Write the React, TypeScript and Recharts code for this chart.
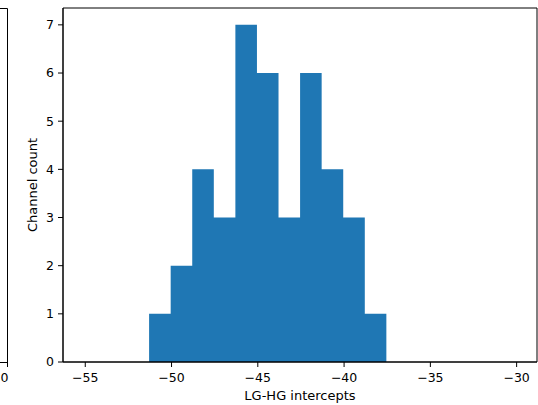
import { FC } from "react";
import {
  ComposedChart,
  Area,
  XAxis,
  YAxis,
  ReferenceArea,
} from "recharts";

// histogram bin edges (12) and channel counts per bin (11)
const binEdges = [
  -51.3, -50.05, -48.8, -47.55, -46.3, -45.05, -43.8, -42.55, -41.3, -40.05,
  -38.8, -37.55,
];
const counts = [1, 2, 4, 3, 7, 6, 3, 6, 4, 3, 1];

const xTicks = [-55, -50, -45, -40, -35, -30];
const yTicks = [0, 1, 2, 3, 4, 5, 6, 7];
const xDomain: [number, number] = [-56.29, -28.82];
const yDomain: [number, number] = [0, 7.35];

const FONT = "'DejaVu Sans', sans-serif";
const BAR_COLOR = "#1f77b4";

// step data: each edge holds the count of the bin that starts there
const data = binEdges.map((x, i) => ({
  x,
  count: i < counts.length ? counts[i] : 0,
}));

const minus = (v: number) => String(v).replace("-", "\u2212");

const App: FC = () => {
  return (
    <div
      style={{
        position: "absolute",
        left: 0,
        top: 0,
        width: 538,
        height: 405,
        background: "#fff",
        fontFamily: FONT,
      }}
    >
      {/* edge of the neighbouring panel on the left */}
      <svg
        width={20}
        height={405}
        style={{ position: "absolute", left: 0, top: 0 }}
      >
        <path d="M0 8.5 H7.5 V362.5 H0" fill="none" stroke="#000" strokeWidth={1} />
        <line x1={7.5} y1={362} x2={7.5} y2={367} stroke="#000" />
        <text
          x={0.5}
          y={382}
          textAnchor="start"
          fontSize={12.5}
          fontFamily={FONT}
          fill="#000"
        >
          0
        </text>
      </svg>
      <ComposedChart
        width={538}
        height={405}
        data={data}
        margin={{ top: 8, right: 1, bottom: 0, left: 0 }}
        style={{ position: "absolute", left: 0, top: 0 }}
      >
        <XAxis
          type="number"
          dataKey="x"
          domain={xDomain}
          ticks={xTicks}
          allowDataOverflow
          height={43}
          tickSize={5}
          tickMargin={6}
          tickFormatter={minus}
          stroke="#000"
          tick={{ fill: "#000", fontSize: 12.5, fontFamily: FONT }}
          label={{
            value: "LG-HG intercepts",
            position: "insideBottom",
            offset: 5,
            fill: "#000",
            fontSize: 13,
            fontFamily: FONT,
          }}
        />
        <YAxis
          type="number"
          domain={yDomain}
          ticks={yTicks}
          allowDataOverflow
          width={63}
          tickSize={5}
          tickMargin={4}
          stroke="#000"
          tick={{ fill: "#000", fontSize: 12.5, fontFamily: FONT }}
          label={{
            value: "Channel count",
            angle: -90,
            position: "insideLeft",
            offset: 32,
            fill: "#000",
            fontSize: 13,
            fontFamily: FONT,
            style: { textAnchor: "middle" },
          }}
        />
        <Area
          type="stepAfter"
          dataKey="count"
          fill={BAR_COLOR}
          fillOpacity={1}
          stroke="none"
          isAnimationActive={false}
          dot={false}
          activeDot={false}
        />
        <ReferenceArea
          x1={xDomain[0]}
          x2={xDomain[1]}
          y1={yDomain[0]}
          y2={yDomain[1]}
          fill="none"
          stroke="#000"
          strokeOpacity={1}
        />
      </ComposedChart>
    </div>
  );
};

export default App;
